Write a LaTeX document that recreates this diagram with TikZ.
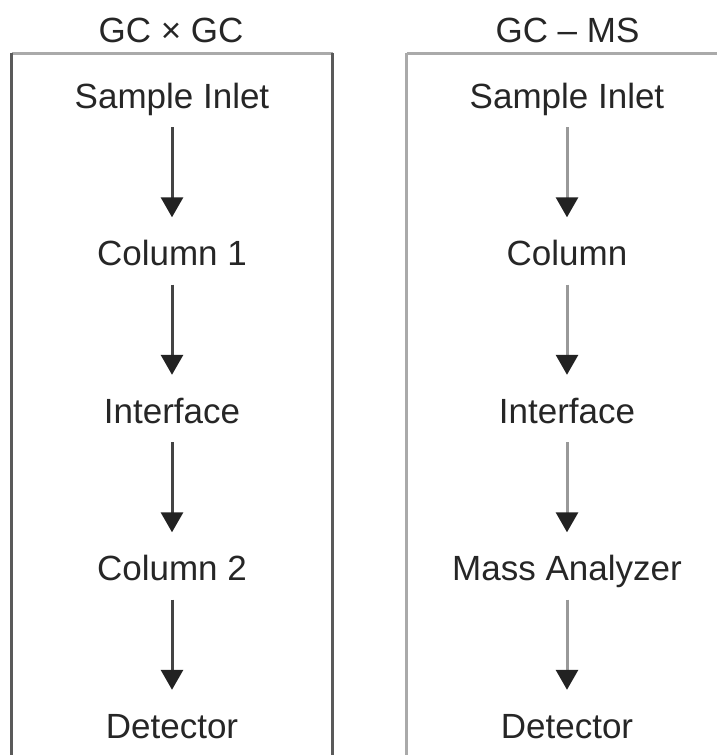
\documentclass[tikz,border=0pt]{standalone}
\usepackage{fontspec}
\setmainfont{Liberation Sans}
\usetikzlibrary{arrows.meta}
\definecolor{framedark}{HTML}{5A5A5A}
\definecolor{framelight}{HTML}{AAAAAA}
\definecolor{shaftdark}{HTML}{444444}
\definecolor{shaftlight}{HTML}{999999}
\definecolor{headcol}{HTML}{222222}
\tikzset{
  stage/.style={anchor=base, inner sep=0pt, text height=26pt, text depth=8pt,
    font=\fontsize{35}{40}\selectfont, text=black!85},
  title/.style={stage},
  flow/.style={line width=3pt, draw=#1, shorten <=11pt, shorten >=22pt,
    -{Triangle[length=20pt,width=22pt,fill=headcol,color=headcol]}},
  frame/.style={line width=3pt, draw=#1},
}
\begin{document}
\begin{tikzpicture}[x=1pt,y=-1pt]
\useasboundingbox (0,0) rectangle (716,755);

% titles
\node[title] (tL) at (171,42) {GC × GC};
\node[title] (tR) at (567.5,42) {GC – MS};

% left frame (open at the bottom)
\coordinate (lTL) at (11.5,53);
\coordinate (lTR) at (332.5,53);
\coordinate (lBL) at (11.5,760);
\coordinate (lBR) at (332.5,760);
\draw[frame=framelight] (lTL) -- (lTR);
\draw[frame=framedark] (lTL) -- (lBL);
\draw[frame=framedark] (lTR) -- (lBR);

% right frame (runs past the right margin)
\coordinate (rTL) at (406.5,53);
\coordinate (rTR) at (720,53);
\coordinate (rBL) at (406.5,760);
\draw[frame=framelight] (rTL) -- (rTR);
\draw[frame=framelight] (rTL) -- (rBL);

% GC x GC chain
\node[stage] (l1) at (172,108)   {Sample Inlet};
\node[stage] (l2) at (172,265.5) {Column 1};
\node[stage] (l3) at (172,423)   {Interface};
\node[stage] (l4) at (172,580.5) {Column 2};
\node[stage] (l5) at (172,738)   {Detector};
\foreach \a/\b in {l1/l2,l2/l3,l3/l4,l4/l5}
  \draw[flow=shaftdark] (\a.south) -- (\b.north);

% GC-MS chain
\node[stage] (r1) at (567,108)   {Sample Inlet};
\node[stage] (r2) at (567,265.5) {Column};
\node[stage] (r3) at (567,423)   {Interface};
\node[stage] (r4) at (567,580.5) {Mass Analyzer};
\node[stage] (r5) at (567,738)   {Detector};
\foreach \a/\b in {r1/r2,r2/r3,r3/r4,r4/r5}
  \draw[flow=shaftlight] (\a.south) -- (\b.north);
\end{tikzpicture}
\end{document}
